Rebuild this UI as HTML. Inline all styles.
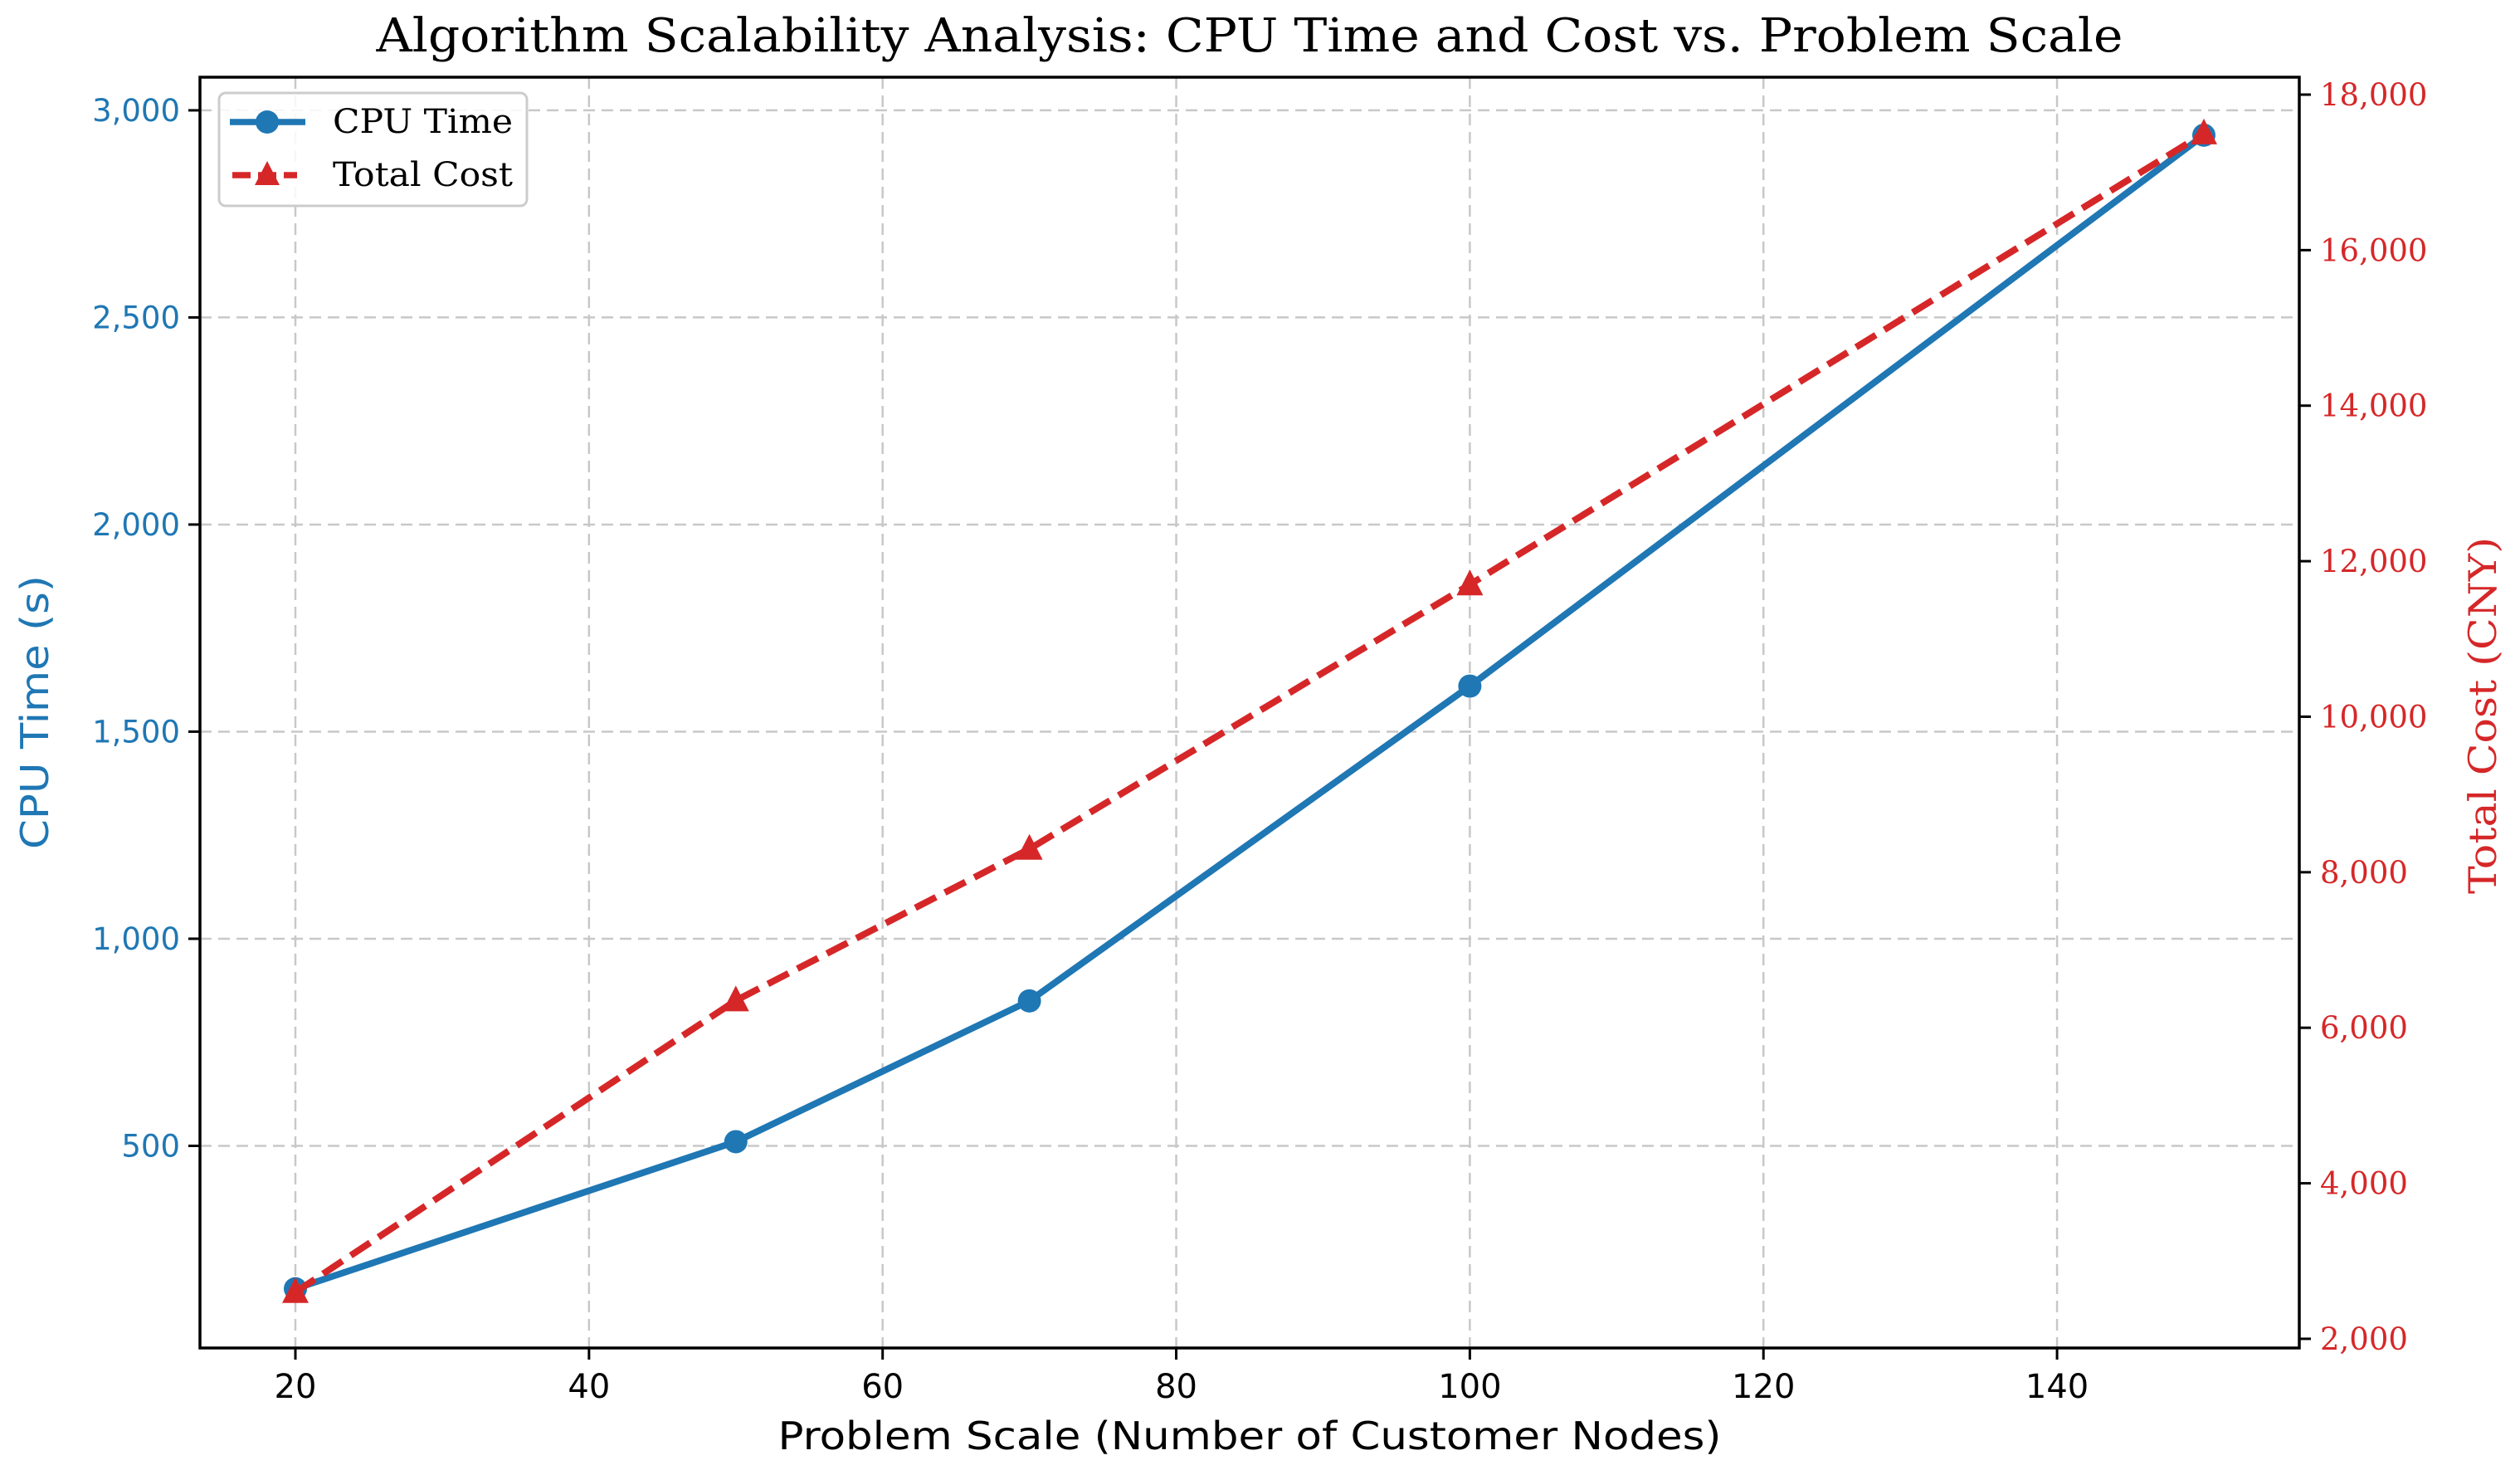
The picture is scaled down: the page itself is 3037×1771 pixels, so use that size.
<!DOCTYPE html>
<html><head><meta charset="utf-8"><style>
html,body{margin:0;padding:0;background:#fff;}
svg{display:block;}
.sans{font-family:"DejaVu Sans","Liberation Sans",sans-serif;}
.serif{font-family:"DejaVu Serif","Liberation Serif",serif;}
</style></head><body>
<svg id="chart" width="3037" height="1771" viewBox="0 0 3037 1771" xmlns="http://www.w3.org/2000/svg">
<rect width="3037" height="1771" fill="#fff"/>
<g id="grid"></g>
<g id="series"></g>
<rect x="241" y="93" width="2530" height="1531" fill="none" stroke="#000" stroke-width="3.5"/>
<g id="axes"></g>
<text class="serif" x="1506" y="62" font-size="56" text-anchor="middle" textLength="2105" lengthAdjust="spacingAndGlyphs">Algorithm Scalability Analysis: CPU Time and Cost vs. Problem Scale</text>
<text class="sans" x="1506" y="1746" font-size="46" text-anchor="middle" textLength="1137" lengthAdjust="spacingAndGlyphs">Problem Scale (Number of Customer Nodes)</text>
<text class="sans" transform="translate(58,858) rotate(-90)" font-size="46" fill="#1f77b4" text-anchor="middle" textLength="330" lengthAdjust="spacingAndGlyphs">CPU Time (s)</text>
<text class="serif" transform="translate(3008,862) rotate(-90)" font-size="46" fill="#d62728" text-anchor="middle" textLength="430" lengthAdjust="spacingAndGlyphs">Total Cost (CNY)</text>
<g>
<rect x="264" y="112" width="371" height="136" rx="8" fill="#fff" fill-opacity="0.85" stroke="#ccc" stroke-width="3"/>
<g>
<line x1="277" y1="147" x2="368" y2="147" stroke="#1f77b4" stroke-width="7.5"/>
<circle cx="322" cy="147" r="14" fill="#1f77b4"/>
<text class="serif" x="401" y="160" font-size="40" textLength="217" lengthAdjust="spacingAndGlyphs">CPU Time</text>
</g>
<g>
<line x1="280" y1="211" x2="358" y2="211" stroke="#d62728" stroke-width="7.5" stroke-dasharray="22,9"/>
<polygon points="322,194 337,223 307,223" fill="#d62728"/>
<text class="serif" x="401" y="224" font-size="40" textLength="217" lengthAdjust="spacingAndGlyphs">Total Cost</text>
</g>
</g>
</svg>
<script>
const scales = [20, 50, 70, 100, 150];
const cpuTime = [155, 510, 850, 1610, 2940];
const totalCost = [2600, 6350, 8300, 11700, 17500];
const xTicks = [20, 40, 60, 80, 100, 120, 140];
const leftTicks = [500, 1000, 1500, 2000, 2500, 3000];
const rightTicks = [2000, 4000, 6000, 8000, 10000, 12000, 14000, 16000, 18000];

const L = 241, R = 2771, T = 93, B = 1624;
const xMin = 13.5, xMax = 156.5;
const yLMin = 12, yLMax = 3080;
const yRMin = 1882, yRMax = 18224;
const NS = 'http://www.w3.org/2000/svg';
const xs = v => L + (v - xMin) / (xMax - xMin) * (R - L);
const yl = v => B - (v - yLMin) / (yLMax - yLMin) * (B - T);
const yr = v => B - (v - yRMin) / (yRMax - yRMin) * (B - T);
const fmt = v => v.toLocaleString('en-US');
function mk(tag, attrs, parent) {
  const e = document.createElementNS(NS, tag);
  for (const k in attrs) e.setAttribute(k, attrs[k]);
  parent.appendChild(e);
  return e;
}
const grid = document.getElementById('grid');
const axes = document.getElementById('axes');
const series = document.getElementById('series');

xTicks.forEach(t => {
  const x = xs(t);
  const g = mk('line', {x1: x, x2: x, y1: T, y2: B, stroke: '#c8c8c8', 'stroke-width': 2.5, 'stroke-dasharray': '14,8'}, grid);
  
  
  const tk = mk('line', {x1: x, x2: x, y1: B, y2: B + 14, stroke: '#000', 'stroke-width': 3}, axes);
  
  
  const lb = mk('text', {x: x, y: B + 60, 'font-size': 40, 'text-anchor': 'middle', class: 'sans'}, axes);
  lb.textContent = t;
  
  
});
leftTicks.forEach(t => {
  const y = yl(t);
  const g = mk('line', {x1: L, x2: R, y1: y, y2: y, stroke: '#c8c8c8', 'stroke-width': 2.5, 'stroke-dasharray': '14,8'}, grid);
  
  
  const tk = mk('line', {x1: L - 14, x2: L, y1: y, y2: y, stroke: '#000', 'stroke-width': 3}, axes);
  
  
  const lb = mk('text', {x: L - 24, y: y + 13, 'font-size': 37, 'text-anchor': 'end', fill: '#1f77b4', class: 'sans'}, axes);
  lb.textContent = fmt(t);
  
  
});
rightTicks.forEach(t => {
  const y = yr(t);
  const tk = mk('line', {x1: R, x2: R + 14, y1: y, y2: y, stroke: '#000', 'stroke-width': 3}, axes);
  
  
  const lb = mk('text', {x: R + 25, y: y + 13, 'font-size': 37, 'text-anchor': 'start', fill: '#d62728', class: 'serif'}, axes);
  lb.textContent = fmt(t);
  
  
});

const cpuPts = scales.map((s, i) => xs(s) + ',' + yl(cpuTime[i])).join(' ');
const cpuLine = mk('polyline', {points: cpuPts, fill: 'none', stroke: '#1f77b4', 'stroke-width': 8, 'stroke-linejoin': 'round'}, series);


scales.forEach((s, i) => {
  const c = mk('circle', {cx: xs(s), cy: yl(cpuTime[i]), r: 14, fill: '#1f77b4'}, series);
  
  
});
const costPts = scales.map((s, i) => xs(s) + ',' + yr(totalCost[i])).join(' ');
const costLine = mk('polyline', {points: costPts, fill: 'none', stroke: '#d62728', 'stroke-width': 8, 'stroke-dasharray': '28,12'}, series);


scales.forEach((s, i) => {
  const x = xs(s), y = yr(totalCost[i]);
  const p = mk('polygon', {points: `${x},${y - 18} ${x + 16},${y + 13} ${x - 16},${y + 13}`, fill: '#d62728'}, series);
  
  
});
</script>
</body></html>
